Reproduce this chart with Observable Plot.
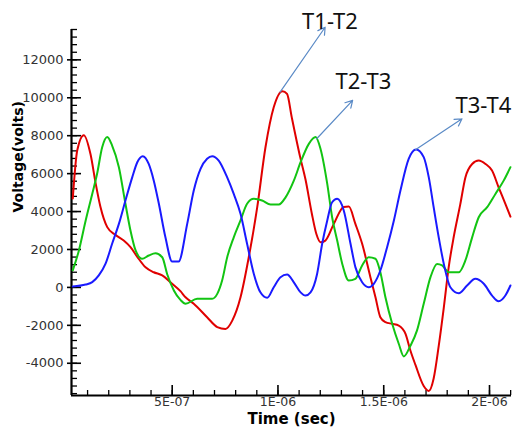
<!DOCTYPE html>
<html><head><meta charset="utf-8">
<script src="https://cdn.jsdelivr.net/npm/d3@7"></script>
<script src="https://cdn.jsdelivr.net/npm/@observablehq/plot@0.6"></script>
<style>body{margin:0;background:#fff} #chart svg{display:block}</style>
</head><body><div id="chart"></div>
<script>
// time values in microseconds, converted to seconds below
const TIME_UNIT = 1e-6;
const seriesNames = ["T1-T2", "T2-T3", "T3-T4"];
const seriesColors = ["#e00000", "#12c412", "#1a1aff"];

const redT = [0.030,0.051,0.082,0.114,0.138,0.161,0.193,0.232,0.271,0.303,0.335,0.374,0.413,0.453,0.492,0.539,0.563,0.602,0.665,0.713,0.752,0.784,0.823,0.862,0.902,0.941,0.980,1.021,1.043,1.065,1.105,1.130,1.160,1.182,1.201,1.224,1.264,1.311,1.335,1.366,1.398,1.437,1.461,1.484,1.508,1.540,1.571,1.603,1.626,1.650,1.689,1.713,1.736,1.760,1.784,1.807,1.831,1.862,1.886,1.918,1.949,1.981,2.012,2.043,2.075,2.099];
const redV = [4690,7220,8030,7020,5500,4240,3180,2770,2470,2120,1610,1060,800,630,270,-200,-520,-860,-1570,-2090,-2190,-1750,-520,1590,4230,7390,9500,10350,10200,8980,6870,5700,3900,2800,2380,2470,3350,4240,4260,3350,2300,540,-520,-1570,-1830,-1920,-2010,-2450,-3330,-4090,-5200,-5460,-4800,-3080,-1060,1060,2670,4390,5800,6510,6690,6510,6160,5280,4410,3730];

const greenT = [0.030,0.059,0.091,0.122,0.145,0.169,0.193,0.216,0.248,0.279,0.303,0.327,0.358,0.389,0.421,0.453,0.476,0.508,0.539,0.563,0.618,0.689,0.713,0.736,0.760,0.791,0.823,0.854,0.886,0.925,0.965,1.004,1.036,1.075,1.107,1.146,1.178,1.201,1.233,1.256,1.280,1.304,1.335,1.366,1.398,1.429,1.461,1.484,1.508,1.540,1.571,1.595,1.626,1.657,1.689,1.721,1.752,1.776,1.807,1.855,1.886,1.918,1.949,1.989,2.028,2.067,2.099];
const greenV = [900,1950,3530,4930,5990,7390,7930,7480,6340,4410,2990,1950,1510,1680,1800,1590,710,-160,-660,-860,-600,-600,-340,360,1590,2640,3530,4410,4670,4580,4370,4370,4750,5630,6600,7570,7930,7310,5460,3700,2470,1240,360,450,1160,1590,1510,800,-520,-1920,-2970,-3640,-3080,-2280,-860,540,1240,1160,800,800,1420,2640,3700,4230,4930,5630,6340];

const blueT = [0.030,0.091,0.122,0.153,0.185,0.216,0.248,0.279,0.311,0.335,0.361,0.389,0.413,0.437,0.468,0.500,0.530,0.571,0.602,0.634,0.665,0.689,0.720,0.760,0.791,0.823,0.854,0.886,0.917,0.949,0.980,1.012,1.043,1.075,1.107,1.130,1.154,1.185,1.209,1.233,1.256,1.280,1.311,1.343,1.366,1.398,1.429,1.453,1.484,1.516,1.548,1.579,1.618,1.653,1.689,1.713,1.736,1.760,1.784,1.815,1.855,1.894,1.933,1.973,2.012,2.043,2.075,2.099];
const blueV = [50,150,280,630,1250,2300,3350,4580,5800,6600,6920,6510,5630,4410,2640,1360,1360,3350,5110,6250,6780,6920,6690,5800,4930,3880,2300,710,-260,-550,10,540,680,270,-260,-430,-260,710,2300,3530,4490,4670,4060,2300,1070,270,10,190,890,2120,3530,5110,6780,7270,6870,5800,4230,2640,1240,10,-310,100,450,190,-430,-730,-430,100];

// annotations (data units: microseconds, volts)
const annLabels = ["T1-T2", "T2-T3", "T3-T4"];
const annFromT = [1.010, 1.183, 1.650];
const annFromV = [10300, 7840, 7260];
const annToT = [1.223, 1.353, 1.870];
const annToV = [13720, 9860, 8890];
const annTextT = [1.114, 1.272, 1.839];
const annTextV = [13990, 10820, 9550];

// axes
const xDomain = [0.024e-6, 2.104e-6];
const yDomain = [-5700, 13600];
const xMajorTicks = [5e-7, 1e-6, 1.5e-6, 2e-6];
const xMinorTicks = d3.range(1, 22).map(i => i * 1e-7);
const yMajorTicks = [-4000, -2000, 0, 2000, 4000, 6000, 8000, 10000, 12000];
const yMinorTicks = d3.range(-5600, 13601, 400);

const W = 517, H = 430;
const mL = 71, mR = 6, mT = 29, mB = 35;
const plotW = W - mL - mR, plotH = H - mT - mB;

const tVals = [redT, greenT, blueT];
const vVals = [redV, greenV, blueV];
const rows = seriesNames.flatMap((name, s) =>
  tVals[s].map((t, i) => ({name, t: t * TIME_UNIT, v: vVals[s][i]})));
const ann = annLabels.map((label, i) => ({
  label,
  x1: annFromT[i] * TIME_UNIT, y1: annFromV[i],
  x2: annToT[i] * TIME_UNIT, y2: annToV[i],
  tx: annTextT[i] * TIME_UNIT, ty: annTextV[i]
}));

const fmtE = d => {
  const e = Math.floor(Math.log10(d) + 1e-9);
  const m = +(d / Math.pow(10, e)).toFixed(2);
  const sign = e < 0 ? "-" : "+";
  return `${m}E${sign}${String(Math.abs(e)).padStart(2, "0")}`;
};
const fmtY = d => String(d);

const chart = Plot.plot({
  width: W, height: H,
  marginLeft: mL, marginRight: mR, marginTop: mT, marginBottom: mB,
  style: {fontFamily: "DejaVu Sans", fontSize: "13px", background: "#fff", overflow: "visible"},
  x: {type: "linear", domain: xDomain},
  y: {type: "linear", domain: yDomain},
  color: {domain: seriesNames, range: seriesColors},
  marks: [
    // ticks
    Plot.ruleY(yMinorTicks, {y: d => d, stroke: "#000", strokeWidth: 1.3, insetLeft: 0, insetRight: plotW - 6}),
    Plot.ruleY(yMajorTicks, {y: d => d, stroke: "#000", strokeWidth: 1.6, insetLeft: -4, insetRight: plotW - 10}),
    Plot.ruleX(xMinorTicks, {x: d => d, stroke: "#000", strokeWidth: 1.3, insetTop: plotH - 5}),
    Plot.ruleX(xMajorTicks, {x: d => d, stroke: "#000", strokeWidth: 1.6, insetTop: plotH - 10}),
    // axis lines
    Plot.ruleX([xDomain[0]], {stroke: "#000", strokeWidth: 2.2}),
    Plot.ruleY([yDomain[0]], {stroke: "#000", strokeWidth: 2.2}),
    Plot.axisY(yMajorTicks, {tickSize: 0, tickPadding: 8, fontSize: 13, fill: "#333", tickFormat: fmtY, label: null}),
    Plot.axisX(xMajorTicks, {tickSize: 0, tickPadding: 2, fontSize: 12.5, fill: "#333", tickFormat: fmtE, label: null}),
    // data
    Plot.line(rows, {x: "t", y: "v", z: "name", stroke: "name", strokeWidth: 2, curve: "monotone-x"}),
    // annotations
    Plot.arrow(ann, {x1: "x1", y1: "y1", x2: "x2", y2: "y2", stroke: "#5a8ac6", strokeWidth: 1.2, headLength: 10, bend: 0}),
    Plot.text(ann, {x: "tx", y: "ty", text: "label", textAnchor: "start", fontFamily: "Noto Sans", fontSize: 22, fill: "#111"}),
    // axis titles
    Plot.text(["Voltage(volts)"], {text: d => d, frameAnchor: "left", dx: -52.5, rotate: -90, fontSize: 14, fontWeight: "bold", fill: "#000"}),
    Plot.text(["Time (sec)"], {text: d => d, frameAnchor: "bottom", dy: 28, fontSize: 15, fontWeight: "bold", fill: "#000"})
  ]
});
document.getElementById("chart").appendChild(chart);
</script>
</body></html>
